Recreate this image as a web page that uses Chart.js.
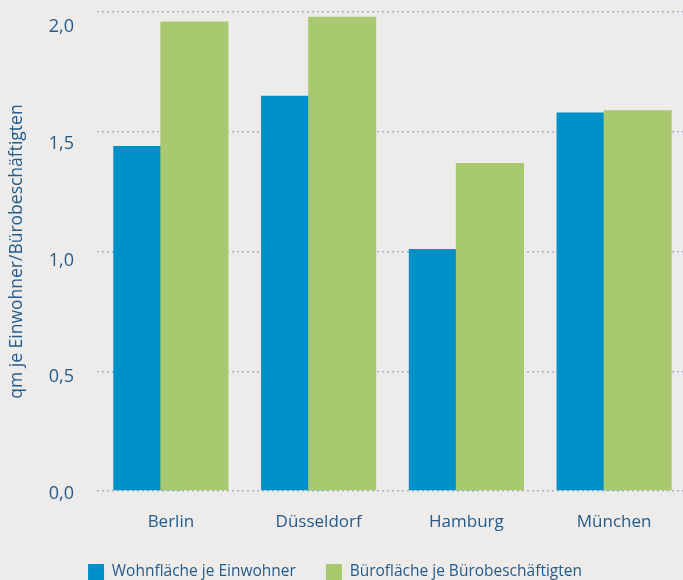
<!DOCTYPE html>
<html lang="de">
<head>
<meta charset="utf-8">
<title>Wohnfläche und Bürofläche</title>
<script src="https://cdn.jsdelivr.net/npm/chart.js@4/dist/chart.umd.min.js"></script>
<style>
  html, body { margin: 0; padding: 0; background: #edecea; overflow: hidden; }
  #wrap { position: relative; width: 688px; height: 590px; }
</style>
</head>
<body>
<div id="wrap"><canvas id="chart"></canvas></div>
<script>
// ===============================
// DATA
// ===============================
const cities = ["Berlin", "Düsseldorf", "Hamburg", "München"];
const wohnflaeche = [1.44, 1.65, 1.01, 1.58];   // qm je Einwohner
const bueroflaeche = [1.96, 1.98, 1.37, 1.59];  // qm je Bürobeschäftigten
const yTicks = [0, 0.5, 1, 1.5, 2];
const seriesNames = ["Wohnfläche je Einwohner", "Bürofläche je Bürobeschäftigten"];
const yTitle = "qm je Einwohner/Bürobeschäftigten";

// ===============================
// STYLE
// ===============================
const textColor = "#255b8b";
const blue = "#0090c8";
const green = "#a8c96f";
const gridColor = "#a3b4d2";
const family = "'Open Sans', sans-serif";

// green bars sit over the wider blue ones, so blue goes first
const blueUnderGreen = {
  id: "blueUnderGreen",
  beforeDatasetsDraw(chart) {
    chart.getDatasetMeta(0).controller.draw();
  },
  beforeDatasetDraw(chart, args) {
    if (args.index === 0) return false;
  }
};

// legend is centred a little left of the canvas middle
const legendShift = {
  id: "legendShift",
  afterLayout(chart) {
    chart.legend.right -= 18;
  }
};

new Chart(document.getElementById("chart"), {
  type: "bar",
  data: {
    labels: cities,
    datasets: [
      { label: seriesNames[0], data: wohnflaeche, backgroundColor: blue },
      { label: seriesNames[1], data: bueroflaeche, backgroundColor: green }
    ]
  },
  options: {
    responsive: true,
    maintainAspectRatio: false,
    animation: false,
    events: [],
    categoryPercentage: 0.637,
    barPercentage: 1.447,
    layout: { padding: { top: 12, left: 0, right: 0, bottom: 0 } },
    scales: {
      x: {
        grid: { display: false },
        border: { display: false },
        ticks: { font: { family, size: 17 }, color: textColor, padding: 13 },
        afterFit: s => { s.height = 43; }
      },
      y: {
        position: "left",
        weight: 0,
        min: 0,
        max: 2,
        ticks: { display: false, stepSize: 0.5 },
        grid: { color: gridColor, lineWidth: 1.5, drawTicks: false },
        border: { display: false, dash: [2, 3] },
        afterFit: s => { s.width = 0; }
      },
      // tick labels sit slightly below their grid lines
      yLabels: {
        position: "left",
        weight: 1,
        min: 0.013,
        max: 2.0645,
        afterBuildTicks: s => { s.ticks = yTicks.map(v => ({ value: v })); },
        afterFit: s => { s.paddingTop = 0; s.paddingBottom = 0; s.width = 97; },
        grid: { display: false },
        border: { display: false },
        ticks: {
          font: { family, size: 18 },
          color: textColor,
          padding: 15,
          callback: v => v.toFixed(1).replace(".", ",")
        },
        title: {
          display: true,
          text: yTitle,
          font: { family, size: 17.5 },
          color: textColor,
          padding: { top: 7, bottom: 0 }
        }
      }
    },
    plugins: {
      legend: {
        position: "bottom",
        labels: {
          boxWidth: 16,
          boxHeight: 16,
          padding: 30,
          color: textColor,
          font: { family, size: 15.5 }
        }
      },
      tooltip: { enabled: false }
    }
  },
  plugins: [blueUnderGreen, legendShift]
});
</script>
</body>
</html>
